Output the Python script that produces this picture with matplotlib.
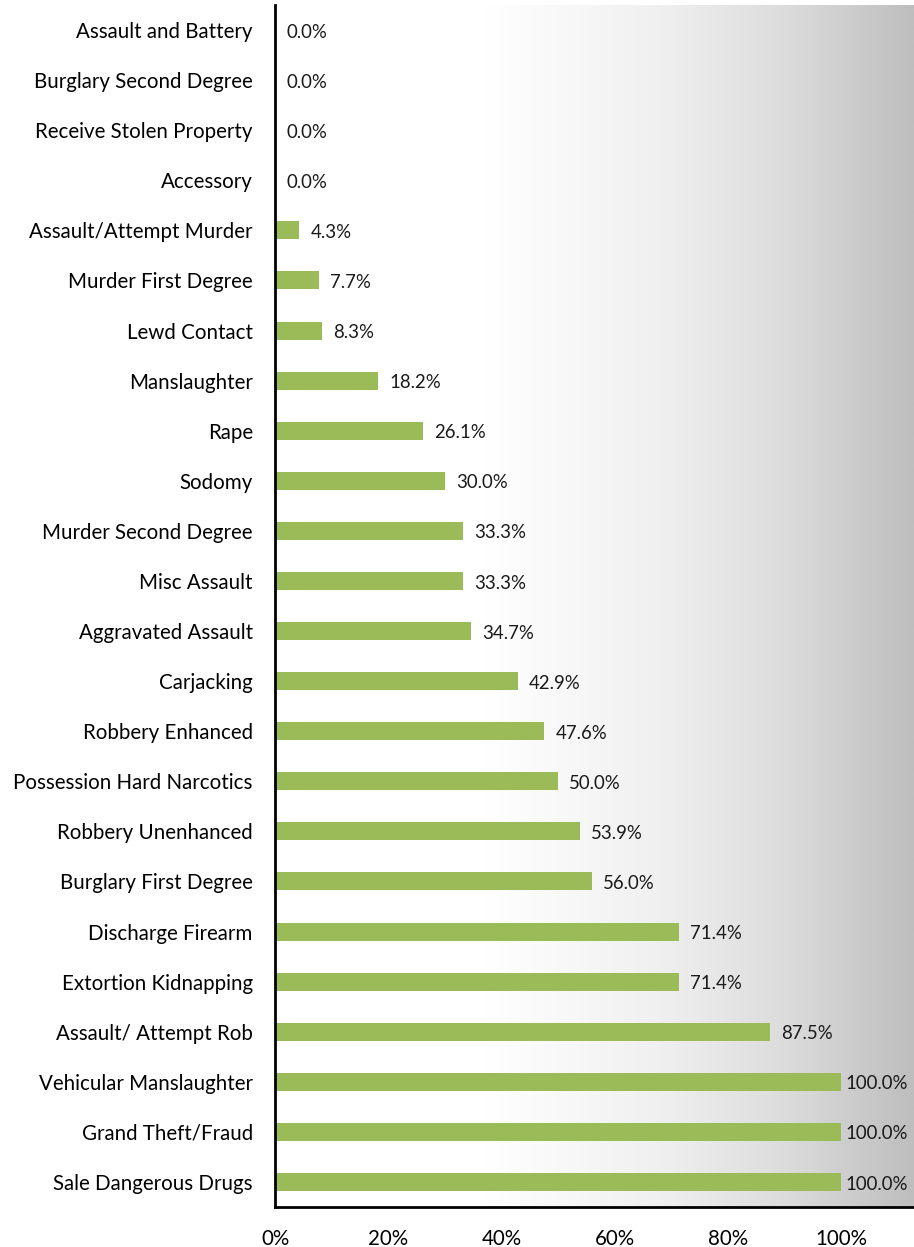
import matplotlib

matplotlib.use("Agg")
import matplotlib.pyplot as plt
import numpy as np
from matplotlib.colors import LinearSegmentedColormap

plt.rcParams["font.family"] = ["Lato", "DejaVu Sans"]

# offence categories, top to bottom as shown
categories = [
    "Assault and Battery",
    "Burglary Second Degree",
    "Receive Stolen Property",
    "Accessory",
    "Assault/Attempt Murder",
    "Murder First Degree",
    "Lewd Contact",
    "Manslaughter",
    "Rape",
    "Sodomy",
    "Murder Second Degree",
    "Misc Assault",
    "Aggravated Assault",
    "Carjacking",
    "Robbery Enhanced",
    "Possession Hard Narcotics",
    "Robbery Unenhanced",
    "Burglary First Degree",
    "Discharge Firearm",
    "Extortion Kidnapping",
    "Assault/ Attempt Rob",
    "Vehicular Manslaughter",
    "Grand Theft/Fraud",
    "Sale Dangerous Drugs",
]
percent = [
    0.0, 0.0, 0.0, 0.0, 4.3, 7.7, 8.3, 18.2, 26.1, 30.0, 33.3, 33.3,
    34.7, 42.9, 47.6, 50.0, 53.9, 56.0, 71.4, 71.4, 87.5, 100.0, 100.0, 100.0,
]
x_ticks = [0, 20, 40, 60, 80, 100]

BAR_COLOR = "#9BBB59"
X_MAX = 112.9

fig = plt.figure(figsize=(9.14, 12.47), dpi=100)
ax = fig.add_axes([275 / 914, 40 / 1247, 1 - 275 / 914, 1202 / 1247])

# background gradient: white on the left, fading to grey on the right
grad = LinearSegmentedColormap.from_list(
    "bg", [(0.0, "#FFFFFF"), (0.33, "#FFFFFF"), (0.6, "#F0F0F0"), (0.8, "#DCDCDC"), (1.0, "#BEBEBE")]
)
ax.imshow(np.linspace(0, 1, 256)[None, :], cmap=grad, aspect="auto",
          extent=[0, 1, 0, 1], transform=ax.transAxes, zorder=0)

y = np.arange(len(categories))
ax.barh(y, percent, height=0.36, color=BAR_COLOR, zorder=2)

for yi, val in zip(y, percent):
    offset = 8 if val < 95 else 3
    ax.annotate(f"{val:.1f}%", (val, yi), xytext=(offset, -1.5), textcoords="offset points",
                va="center", ha="left", fontsize=13.4, color="#1a1a1a", zorder=3)

ax.set_xlim(0, X_MAX)
ax.set_ylim(len(categories) - 0.5, -0.5)
ax.set_yticks(y)
ax.set_yticklabels(categories, fontsize=14.8)
ax.set_xticks(x_ticks)
ax.set_xticklabels([f"{t}%" for t in x_ticks], fontsize=14.8)
ax.tick_params(axis="y", length=0, pad=16)
ax.tick_params(axis="x", length=0, pad=16)

for side in ("top", "right"):
    ax.spines[side].set_visible(False)
for side in ("left", "bottom"):
    ax.spines[side].set_linewidth(2)
    ax.spines[side].set_color("black")
    ax.spines[side].set_zorder(4)

fig.savefig("out.png", dpi=100)
